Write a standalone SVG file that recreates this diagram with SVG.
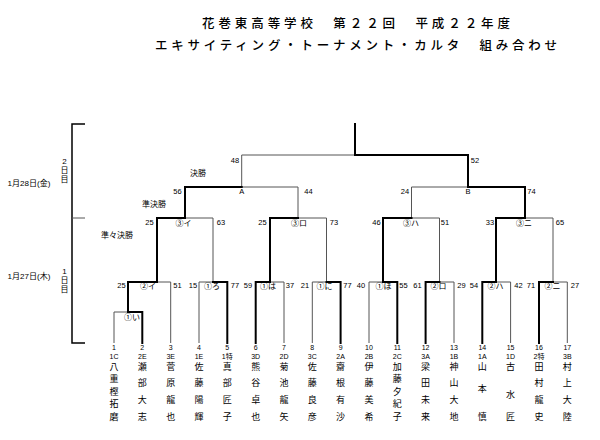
<svg xmlns="http://www.w3.org/2000/svg" width="600" height="440" viewBox="0 0 600 440">
<style>
text{font-family:"Liberation Sans","Noto Sans CJK JP",sans-serif;fill:#000;dominant-baseline:central;text-anchor:middle}
.t{font-family:"Noto Sans CJK JP",sans-serif;font-size:12.5px;text-anchor:start;font-weight:500}
.s{font-size:7.5px}
.m{font-family:"Noto Sans CJK JP",sans-serif;font-size:8px}
.r{font-family:"Noto Sans CJK JP",sans-serif;font-size:8px}
.d{font-size:8px}
.c{font-size:7px}
.nm{font-family:"Noto Sans CJK JP",sans-serif;font-size:9px}
.b{stroke:#000;stroke-width:2;fill:none;stroke-linecap:square}
.th{stroke:#555;stroke-width:1;fill:none}
.k{stroke:#000;stroke-width:1.5;fill:none}
</style>
<g id="title">
<text class="t" x="202" y="22" textLength="308" lengthAdjust="spacing">花巻東高等学校　第２２回　平成２２年度</text>
<text class="t" x="155" y="44" textLength="402" lengthAdjust="spacing">エキサイティング・トーナメント・カルタ　組み合わせ</text>
</g>
<g id="days">
<path class="k" d="M85,124H72V343H85"/>
<path class="th" d="M72,218H85"/>
<text class="d" x="29" y="183" textLength="43" lengthAdjust="spacingAndGlyphs">1月28日(金)</text>
<text class="d" x="29" y="276" textLength="43" lengthAdjust="spacingAndGlyphs">1月27日(木)</text>
<text class="d" x="64.5" y="161">2</text><text class="d" x="64.5" y="170">日</text><text class="d" x="64.5" y="179">目</text>
<text class="d" x="64.5" y="271">1</text><text class="d" x="64.5" y="280">日</text><text class="d" x="64.5" y="289">目</text>
</g>
<g id="rounds">
<text class="r" x="198" y="172">決勝</text>
<text class="r" x="154" y="203">準決勝</text>
<text class="r" x="117" y="234">準々決勝</text>
</g>
<g id="connectors">
<path class="th" d="M114,343V312H128 M170.7,343V282H157 M199,343V282H213 M284,343V282H270 M312.3,343V282H326.5 M369,343V282H383 M454,343V282H439.5 M510.6,343V282H496 M567.3,343V282H553"/>
<path class="th" d="M213,282V218H185 M326.5,282V218H298 M439.5,282V218H411.5 M553,282V218H525"/>
<path class="th" d="M298,218V187H241.7 M411.5,218V187H468"/>
<path class="th" d="M241.7,187V155H355"/>
<path class="b" d="M142.3,343V312H128V282H157V218H185V187H241.7"/>
<path class="b" d="M227.3,343V282H213"/>
<path class="b" d="M255.7,343V282H270V218H298"/>
<path class="b" d="M340.6,343V282H326.5"/>
<path class="b" d="M397.3,343V282H383V218H411.5"/>
<path class="b" d="M425.6,343V282H439.5"/>
<path class="b" d="M482.3,343V282H496V218H525V187H468V155H355V124"/>
<path class="b" d="M539,343V282H553"/>
</g>
<g id="matches">
<g id="m-1i"><text class="m" x="132" y="316">①い</text></g>
<g id="m-2i"><text class="s" x="121.5" y="285">25</text><text class="m" x="148" y="285">②イ</text><text class="s" x="177.5" y="285">51</text></g>
<g id="m-1ro"><text class="s" x="193" y="285">15</text><text class="m" x="212" y="285">①ろ</text><text class="s" x="235" y="285">77</text></g>
<g id="m-1ha"><text class="s" x="248" y="285">59</text><text class="m" x="268" y="285">①は</text><text class="s" x="290" y="285">37</text></g>
<g id="m-1ni"><text class="s" x="305" y="285">21</text><text class="m" x="324.5" y="285">①に</text><text class="s" x="347.5" y="285">77</text></g>
<g id="m-1ho"><text class="s" x="361" y="285">40</text><text class="m" x="383.5" y="285">①ほ</text><text class="s" x="403.5" y="285">55</text></g>
<g id="m-2ro"><text class="s" x="417.5" y="285">61</text><text class="m" x="438.5" y="285">②ロ</text><text class="s" x="461.5" y="285">29</text></g>
<g id="m-2ha"><text class="s" x="474" y="285">54</text><text class="m" x="495.5" y="285">②ハ</text><text class="s" x="518.5" y="285">42</text></g>
<g id="m-2ni"><text class="s" x="531" y="285">71</text><text class="m" x="552.5" y="285">②ニ</text><text class="s" x="575" y="285">27</text></g>
<g id="m-3i"><text class="s" x="149.5" y="222">25</text><text class="m" x="183.5" y="222">③イ</text><text class="s" x="221" y="222">63</text></g>
<g id="m-3ro"><text class="s" x="262.5" y="222">25</text><text class="m" x="299" y="222">③ロ</text><text class="s" x="334" y="222">73</text></g>
<g id="m-3ha"><text class="s" x="376.5" y="222">46</text><text class="m" x="411" y="222">③ハ</text><text class="s" x="445" y="222">51</text></g>
<g id="m-3ni"><text class="s" x="490" y="222">33</text><text class="m" x="524" y="222">③ニ</text><text class="s" x="560" y="222">65</text></g>
<g id="m-A"><text class="s" x="177.5" y="191">56</text><text class="s" x="241.7" y="191">A</text><text class="s" x="308.5" y="191">44</text></g>
<g id="m-B"><text class="s" x="405" y="191">24</text><text class="s" x="468" y="191">B</text><text class="s" x="531.5" y="191">74</text></g>
<g id="m-F"><text class="s" x="235" y="160">48</text><text class="s" x="475" y="160">52</text></g>
</g>
<g id="p1"><text class="c" x="114" y="347.5">1</text><text class="c" x="114" y="356">1C</text><text class="nm" x="114" y="366">八</text><text class="nm" x="114" y="378.5">重</text><text class="nm" x="114" y="391">樫</text><text class="nm" x="114" y="403.5">拓</text><text class="nm" x="114" y="416">磨</text></g>
<g id="p2"><text class="c" x="142.3" y="347.5">2</text><text class="c" x="142.3" y="356">2E</text><text class="nm" x="142.3" y="366">瀬</text><text class="nm" x="142.3" y="382.5">部</text><text class="nm" x="142.3" y="399">大</text><text class="nm" x="142.3" y="416">志</text></g>
<g id="p3"><text class="c" x="170.7" y="347.5">3</text><text class="c" x="170.7" y="356">3E</text><text class="nm" x="170.7" y="366">菅</text><text class="nm" x="170.7" y="382.5">原</text><text class="nm" x="170.7" y="399">龍</text><text class="nm" x="170.7" y="416">也</text></g>
<g id="p4"><text class="c" x="199" y="347.5">4</text><text class="c" x="199" y="356">1E</text><text class="nm" x="199" y="366">佐</text><text class="nm" x="199" y="382.5">藤</text><text class="nm" x="199" y="399">陽</text><text class="nm" x="199" y="416">輝</text></g>
<g id="p5"><text class="c" x="227.3" y="347.5">5</text><text class="c" x="227.3" y="356">1特</text><text class="nm" x="227.3" y="366">真</text><text class="nm" x="227.3" y="382.5">部</text><text class="nm" x="227.3" y="399">匠</text><text class="nm" x="227.3" y="416">子</text></g>
<g id="p6"><text class="c" x="255.7" y="347.5">6</text><text class="c" x="255.7" y="356">3D</text><text class="nm" x="255.7" y="366">熊</text><text class="nm" x="255.7" y="382.5">谷</text><text class="nm" x="255.7" y="399">卓</text><text class="nm" x="255.7" y="416">也</text></g>
<g id="p7"><text class="c" x="284" y="347.5">7</text><text class="c" x="284" y="356">2D</text><text class="nm" x="284" y="366">菊</text><text class="nm" x="284" y="382.5">池</text><text class="nm" x="284" y="399">龍</text><text class="nm" x="284" y="416">矢</text></g>
<g id="p8"><text class="c" x="312.3" y="347.5">8</text><text class="c" x="312.3" y="356">3C</text><text class="nm" x="312.3" y="366">佐</text><text class="nm" x="312.3" y="382.5">藤</text><text class="nm" x="312.3" y="399">良</text><text class="nm" x="312.3" y="416">彦</text></g>
<g id="p9"><text class="c" x="340.6" y="347.5">9</text><text class="c" x="340.6" y="356">2A</text><text class="nm" x="340.6" y="366">齋</text><text class="nm" x="340.6" y="382.5">根</text><text class="nm" x="340.6" y="399">有</text><text class="nm" x="340.6" y="416">沙</text></g>
<g id="p10"><text class="c" x="369" y="347.5">10</text><text class="c" x="369" y="356">2B</text><text class="nm" x="369" y="366">伊</text><text class="nm" x="369" y="382.5">藤</text><text class="nm" x="369" y="399">美</text><text class="nm" x="369" y="416">希</text></g>
<g id="p11"><text class="c" x="397.3" y="347.5">11</text><text class="c" x="397.3" y="356">2C</text><text class="nm" x="397.3" y="366">加</text><text class="nm" x="397.3" y="378.5">藤</text><text class="nm" x="397.3" y="391">夕</text><text class="nm" x="397.3" y="403.5">紀</text><text class="nm" x="397.3" y="416">子</text></g>
<g id="p12"><text class="c" x="425.6" y="347.5">12</text><text class="c" x="425.6" y="356">3A</text><text class="nm" x="425.6" y="366">梁</text><text class="nm" x="425.6" y="382.5">田</text><text class="nm" x="425.6" y="399">未</text><text class="nm" x="425.6" y="416">来</text></g>
<g id="p13"><text class="c" x="454" y="347.5">13</text><text class="c" x="454" y="356">1B</text><text class="nm" x="454" y="366">神</text><text class="nm" x="454" y="382.5">山</text><text class="nm" x="454" y="399">大</text><text class="nm" x="454" y="416">地</text></g>
<g id="p14"><text class="c" x="482.3" y="347.5">14</text><text class="c" x="482.3" y="356">1A</text><text class="nm" x="482.3" y="366">山</text><text class="nm" x="482.3" y="388">本</text><text class="nm" x="482.3" y="416">慎</text></g>
<g id="p15"><text class="c" x="510.6" y="347.5">15</text><text class="c" x="510.6" y="356">1D</text><text class="nm" x="510.6" y="366">古</text><text class="nm" x="510.6" y="394">水</text><text class="nm" x="510.6" y="416">匠</text></g>
<g id="p16"><text class="c" x="539" y="347.5">16</text><text class="c" x="539" y="356">2特</text><text class="nm" x="539" y="366">田</text><text class="nm" x="539" y="382.5">村</text><text class="nm" x="539" y="399">龍</text><text class="nm" x="539" y="416">史</text></g>
<g id="p17"><text class="c" x="567.3" y="347.5">17</text><text class="c" x="567.3" y="356">3B</text><text class="nm" x="567.3" y="366">村</text><text class="nm" x="567.3" y="382.5">上</text><text class="nm" x="567.3" y="399">大</text><text class="nm" x="567.3" y="416">陸</text></g>
</svg>
